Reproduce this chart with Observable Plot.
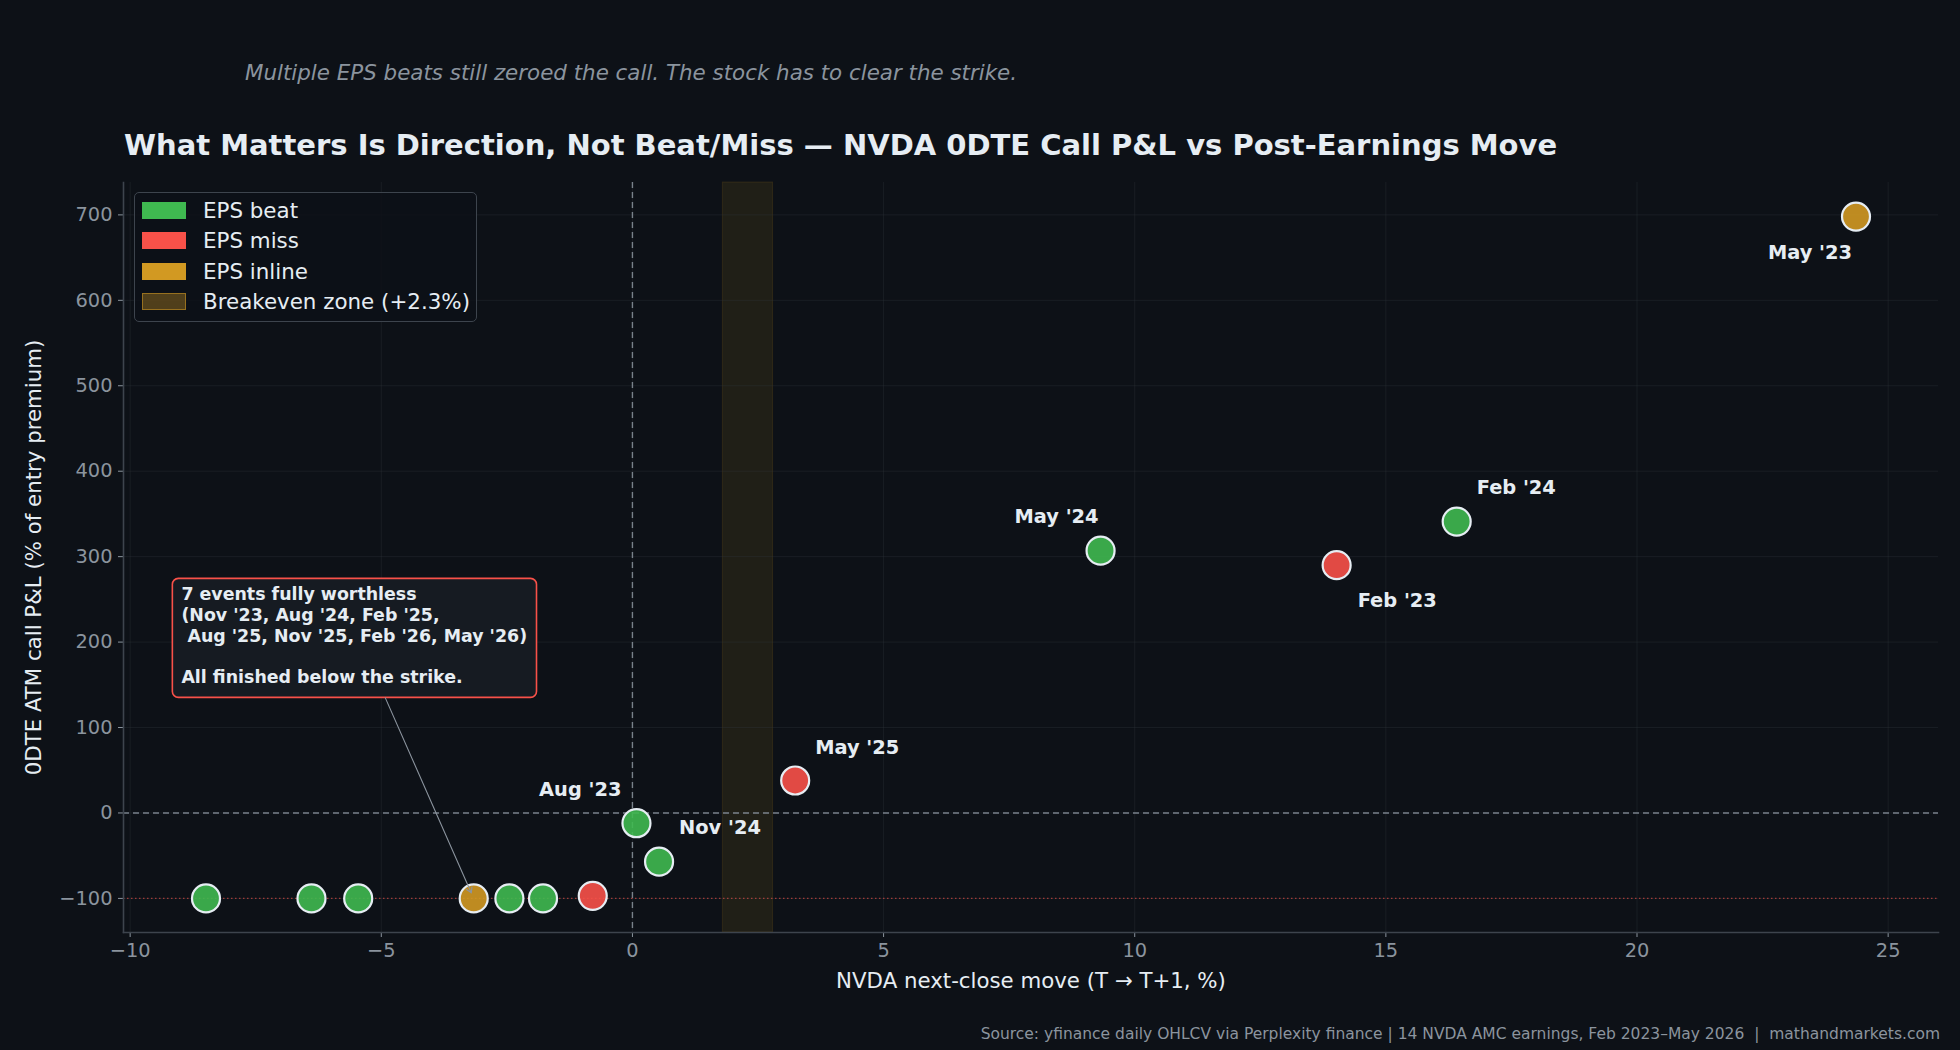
<!DOCTYPE html>
<html>
<head>
<meta charset="utf-8">
<script src="https://cdn.jsdelivr.net/npm/d3@7"></script>
<script src="https://cdn.jsdelivr.net/npm/@observablehq/plot@0.6"></script>
<style>
  html, body { margin: 0; padding: 0; background: #0d1117; }
  body { width: 1960px; height: 1050px; position: relative; overflow: hidden; font-family: "DejaVu Sans", sans-serif; }
  .abs { position: absolute; white-space: pre; line-height: 1; }
  #subtitle { left: 245px; top: 61.5px; font-size: 21.4px; font-style: italic; color: #8b949e; }
  #title { left: 124px; top: 130.5px; font-size: 29px; font-weight: bold; color: #e6edf3; }
  #chart { position: absolute; left: 0; top: 160px; }
  #source { right: 20px; top: 1027px; font-size: 15.5px; color: #8b949e; }
  #legend { position: absolute; left: 134px; top: 192px; width: 343px; height: 130px; border: 1.5px solid #3d444d; border-radius: 5px; background: rgba(13,17,23,0.85); box-sizing: border-box; }
  .row { position: absolute; left: 7px; height: 20px; display: flex; align-items: center; }
  .sw { width: 44px; height: 17px; box-sizing: border-box; margin-right: 17px; }
  .lt { font-size: 21.4px; color: #e6edf3; white-space: pre; }
</style>
</head>
<body>
<div id="subtitle" class="abs"></div>
<div id="title" class="abs"></div>
<div id="chart"></div>
<div id="legend"></div>
<div id="source" class="abs"></div>
<script>
// ---- Data ----
const moves = [-8.49, -6.39, -5.46, -3.16, -2.45, -1.78, -0.79, 0.08, 0.53, 3.24, 9.32, 14.02, 16.41, 24.36];
const pnl   = [-100, -100, -100, -100, -100, -100, -97, -12, -57, 38, 307, 290, 341, 698];
const eps   = ["beat","beat","beat","inline","beat","beat","miss","beat","beat","miss","beat","miss","beat","inline"];
const eventLabels = ["", "", "", "", "", "", "", "Aug '23", "Nov '24", "May '25", "May '24", "Feb '23", "Feb '24", "May '23"];

const epsCategories = ["beat", "miss", "inline"];
const epsColors = ["#3fb950", "#f85149", "#d29922"];
const legendLabels = ["EPS beat", "EPS miss", "EPS inline", "Breakeven zone (+2.3%)"];

const breakeven = 2.3;
const breakevenHalfWidth = 0.5;

const xTicks = [-10, -5, 0, 5, 10, 15, 20, 25];
const yTicks = [-100, 0, 100, 200, 300, 400, 500, 600, 700];

const titleText = "What Matters Is Direction, Not Beat/Miss \u2014 NVDA 0DTE Call P&L vs Post-Earnings Move";
const subtitleText = "Multiple EPS beats still zeroed the call. The stock has to clear the strike.";
const sourceText = "Source: yfinance daily OHLCV via Perplexity finance | 14 NVDA AMC earnings, Feb 2023\u2013May 2026  |  mathandmarkets.com";
const xLabel = "NVDA next-close move (T \u2192 T+1, %)";
const yLabel = "0DTE ATM call P&L (% of entry premium)";

const noteText = "7 events fully worthless\n(Nov '23, Aug '24, Feb '25,\n\u00a0Aug '25, Nov '25, Feb '26, May '26)\n\nAll finished below the strike.";

// label placement (presentation only)
const placement = {
  "Aug '23": {anchor: "end", dx: -15, dy: -33},
  "Nov '24": {anchor: "start", dx: 20, dy: -34},
  "May '25": {anchor: "start", dx: 20, dy: -33},
  "May '24": {anchor: "end", dx: -2, dy: -34},
  "Feb '23": {anchor: "start", dx: 21, dy: 36},
  "Feb '24": {anchor: "start", dx: 20, dy: -34},
  "May '23": {anchor: "end", dx: -4, dy: 36}
};
// annotation box in data space
const note = {x1: -9.15, x2: -1.9, y1: 134.7, y2: 274, tx: -8.98, ty: 266, ax: -4.92, ay: 134.7, target: 3};

// ---- Build ----
const data = moves.map((m, i) => ({move: m, pnl: pnl[i], eps: eps[i], label: eventLabels[i]}));

const [xmin, xmax] = d3.extent(moves);
const [ymin, ymax] = d3.extent(pnl);
const xpad = 0.05 * (xmax - xmin), ypad = 0.05 * (ymax - ymin);

document.getElementById("title").textContent = titleText;
document.getElementById("subtitle").textContent = subtitleText;
document.getElementById("source").textContent = sourceText;

const tgt = data[note.target];
const labelMarks = data.filter(d => d.label).map(d => {
  const p = placement[d.label];
  return Plot.text([d], {x: "move", y: "pnl", text: "label", textAnchor: p.anchor, dx: p.dx, dy: p.dy,
    fill: "#e6edf3", fontSize: 19.4, fontWeight: "bold"});
});

const chart = Plot.plot({
  width: 1960,
  height: 850,
  marginLeft: 123,
  marginRight: 22,
  marginTop: 22,
  marginBottom: 78,
  style: {background: "transparent", fontFamily: "DejaVu Sans, sans-serif"},
  x: {domain: [xmin - xpad, xmax + xpad], ticks: xTicks},
  y: {domain: [ymin - ypad, ymax + ypad], ticks: yTicks},
  color: {domain: epsCategories, range: epsColors},
  marks: [
    Plot.rect([breakeven], {x1: d => d - breakevenHalfWidth, x2: d => d + breakevenHalfWidth,
      fill: "#d29922", fillOpacity: 0.1, stroke: "#d29922", strokeOpacity: 0.12}),
    Plot.gridX(xTicks, {stroke: "#30363d", strokeOpacity: 0.35, strokeWidth: 1}),
    Plot.gridY(yTicks, {stroke: "#30363d", strokeOpacity: 0.35, strokeWidth: 1}),
    Plot.ruleX([0], {stroke: "#8b949e", strokeOpacity: 0.85, strokeWidth: 1.4, strokeDasharray: "6,4"}),
    Plot.ruleY([0], {stroke: "#8b949e", strokeOpacity: 0.85, strokeWidth: 1.4, strokeDasharray: "6,4"}),
    Plot.ruleY([-100], {stroke: "#f85149", strokeOpacity: 0.6, strokeWidth: 1.4, strokeDasharray: "1.5,2.5"}),
    Plot.axisX({ticks: xTicks, tickFormat: d3.format("d"), tickSize: 5, tickPadding: 6, fontSize: 19.4,
      color: "#8b949e", label: null}),
    Plot.axisY({ticks: yTicks, tickFormat: d3.format("d"), tickSize: 5, tickPadding: 6, fontSize: 19.4,
      color: "#8b949e", label: null}),
    Plot.frame({anchor: "bottom", stroke: "#3d444d", strokeWidth: 1.6}),
    Plot.frame({anchor: "left", stroke: "#3d444d", strokeWidth: 1.6}),
    Plot.text([xLabel], {frameAnchor: "bottom", text: d => d, dy: 49, textAnchor: "middle", lineAnchor: "middle", fill: "#e6edf3", fontSize: 21.3}),
    Plot.text([yLabel], {frameAnchor: "left", text: d => d, dx: -89, rotate: -90, textAnchor: "middle", lineAnchor: "middle", fill: "#e6edf3", fontSize: 21.3}),
    Plot.rect([note], {x1: "x1", x2: "x2", y1: "y1", y2: "y2", fill: "#161b22", stroke: "#f85149", strokeWidth: 1.6, rx: 6}),
    Plot.text([noteText], {x: () => note.tx, y: () => note.ty, text: d => d, textAnchor: "start", lineAnchor: "top",
      lineHeight: 1.19, fill: "#e6edf3", fontSize: 17.4, fontWeight: "bold"}),
    Plot.dot(data, {x: "move", y: "pnl", fill: "eps", fillOpacity: 0.9, r: 14, stroke: "#e6edf3", strokeWidth: 2.2}),
    Plot.arrow([tgt], {x1: () => note.ax, y1: () => note.ay, x2: "move", y2: "pnl", insetEnd: 6,
      stroke: "#8b949e", strokeWidth: 1.1, headLength: 8}),
    ...labelMarks
  ]
});
document.getElementById("chart").appendChild(chart);

// ---- Legend ----
const legend = document.getElementById("legend");
const swatchStyles = [
  {background: epsColors[0]},
  {background: epsColors[1]},
  {background: epsColors[2]},
  {background: "rgba(210,153,34,0.35)", border: "1.5px solid rgba(210,153,34,0.55)"}
];
const rowTops = [7, 37.5, 68, 98.5];
legendLabels.forEach((lab, i) => {
  const row = document.createElement("div");
  row.className = "row";
  row.style.top = rowTops[i] + "px";
  const sw = document.createElement("div");
  sw.className = "sw";
  Object.assign(sw.style, swatchStyles[i]);
  const t = document.createElement("span");
  t.className = "lt";
  t.textContent = lab;
  row.appendChild(sw); row.appendChild(t);
  legend.appendChild(row);
});
</script>
</body>
</html>
